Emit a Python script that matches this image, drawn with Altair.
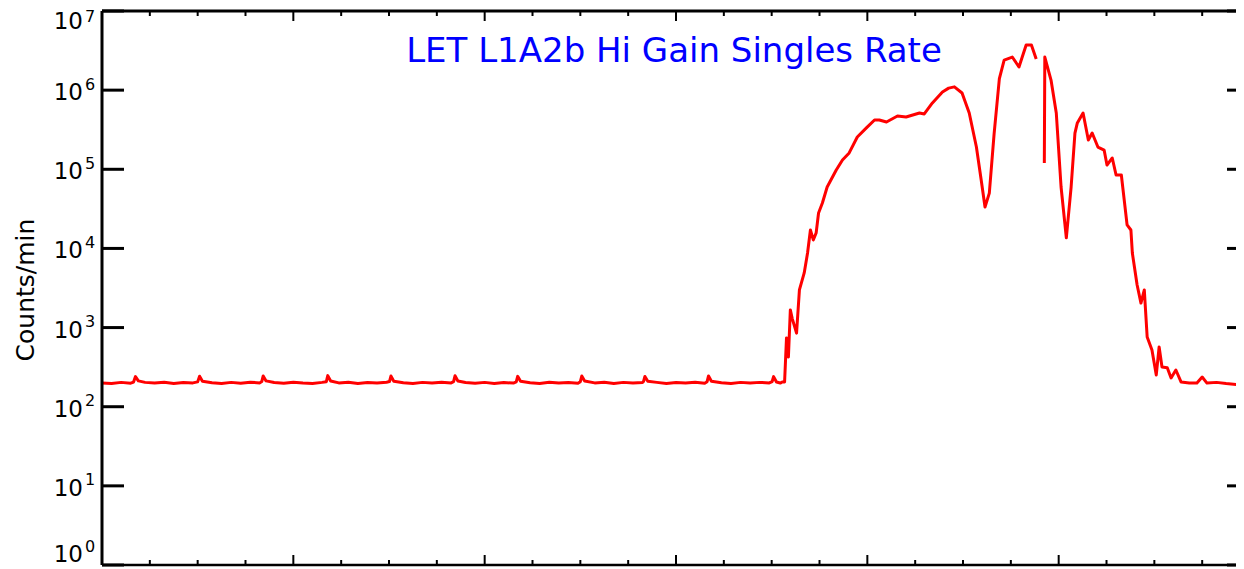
import altair as alt
import pandas as pd

# ---- data (hours, counts/min) ----
seg1_hours = [0.00, 0.20, 0.40, 0.60, 0.66, 0.70, 0.76, 0.90, 1.10, 1.30, 1.50, 1.70, 1.90,
              2.00, 2.04, 2.10, 2.30, 2.50, 2.70, 2.90, 3.10, 3.30, 3.34, 3.37, 3.43, 3.60,
              3.80, 4.00, 4.20, 4.40, 4.60, 4.69, 4.72, 4.78, 4.95, 5.15, 5.35, 5.55, 5.75,
              5.95, 6.01, 6.04, 6.10, 6.30, 6.50, 6.70, 6.90, 7.10, 7.30, 7.35, 7.38, 7.44,
              7.60, 7.80, 8.00, 8.20, 8.40, 8.60, 8.66, 8.69, 8.75, 8.95, 9.15, 9.35, 9.55,
              9.75, 9.95, 10.00, 10.03, 10.09, 10.30, 10.50, 10.70, 10.90, 11.10, 11.30,
              11.32, 11.35, 11.41, 11.60, 11.80, 12.00, 12.20, 12.40, 12.60, 12.65, 12.68,
              12.74, 12.95, 13.15, 13.35, 13.55, 13.75, 13.95, 14.01, 14.04, 14.10, 14.18,
              14.22, 14.27, 14.31, 14.35, 14.39, 14.43, 14.52, 14.58, 14.68, 14.75, 14.81,
              14.87, 14.93, 14.98, 15.06, 15.16, 15.35, 15.48, 15.62, 15.79, 15.98, 16.15,
              16.25, 16.40, 16.63, 16.81, 17.09, 17.19, 17.36, 17.57, 17.70, 17.82, 17.98, 18.13,
              18.28, 18.38, 18.46, 18.55, 18.65, 18.76, 18.86, 19.03, 19.17, 19.32, 19.43,
              19.53]
seg1_rate = [200, 196, 203, 198, 205, 240, 212, 203, 199, 204, 197, 202, 200,
             206, 243, 210, 201, 197, 203, 198, 204, 200, 208, 245, 212, 202,
             198, 204, 199, 197, 203, 207, 247, 211, 200, 204, 197, 202, 199,
             204, 208, 244, 210, 201, 197, 203, 199, 204, 200, 207, 246, 211,
             202, 198, 203, 197, 202, 199, 206, 242, 210, 201, 197, 204, 199,
             202, 198, 207, 244, 211, 200, 204, 197, 203, 199, 202,
             208, 241, 210, 203, 197, 202, 199, 204, 198, 207, 245,
             210, 201, 197, 203, 199, 203, 200, 208, 240, 205, 199,
             205, 205, 740, 425, 1670, 1300, 850, 2990, 4900, 8750, 17100,
             12800, 15700, 28000, 37500, 59700, 98000, 131000, 161000, 256000, 333000, 420000,
             420000, 396000, 471000, 458000, 514000, 500000, 689000, 948000, 1060000, 1100000, 921000, 514000,
             191000, 73300, 33300, 50000, 280000, 1400000, 2400000, 2620000, 1960000, 3710000, 3710000,
             2470000]

seg2_hours = [19.70, 19.71, 19.84, 19.95, 20.05, 20.16, 20.26, 20.34, 20.39, 20.51, 20.62,
              20.70, 20.82, 20.95, 21.01, 21.12, 21.20, 21.31, 21.43, 21.51, 21.54, 21.64,
              21.72, 21.79, 21.85, 21.95, 22.04, 22.10, 22.16, 22.27, 22.35, 22.45, 22.56,
              22.73, 22.89, 23.00, 23.10, 23.30, 23.50, 23.77]
seg2_rate = [120000, 2620000, 1340000, 514000, 59700, 13600, 59700, 287000, 385000, 514000, 234000,
             287000, 191000, 175000, 113000, 139000, 84700, 84700, 19800, 17100, 8750, 3450,
             2040, 2990, 760, 520, 252, 568, 318, 310, 231, 291, 205,
             199, 199, 237, 199, 203, 196, 190]

decades = [1, 10, 100, 1000, 10000, 100000, 1000000, 10000000]
exponents = ["0", "1", "2", "3", "4", "5", "6", "7"]
hour_ticks = list(range(0, 24))
title_text = "LET L1A2b Hi Gain Singles Rate"
y_title = "Counts/min"

# ---- tables ----
line_df = pd.concat([
    pd.DataFrame({"t": seg1_hours, "v": seg1_rate, "seg": "a"}),
    pd.DataFrame({"t": seg2_hours, "v": seg2_rate, "seg": "b"}),
])
dec_df = pd.DataFrame({"v": decades, "e": exponents})
xt_df = pd.DataFrame({"t": hour_ticks, "major": [h % 4 == 0 for h in hour_ticks]})
one = pd.DataFrame({"a": [0]})

W, H = 1134, 554
FONT = "DejaVu Sans"
xscale = alt.Scale(domain=[0, 23.707], nice=False, zero=False)
yscale = alt.Scale(type="log", domain=[1, 1e7], nice=False)
X = alt.X("t:Q", scale=xscale, axis=None)
Y = alt.Y("v:Q", scale=yscale, axis=None)

line = alt.Chart(line_df).mark_line(color="#ff0000", strokeWidth=3, strokeJoin="round").encode(
    x=X, y=Y, detail="seg:N")

ytick_l = alt.Chart(dec_df).mark_rule(color="black", strokeWidth=3).encode(
    y=Y, x=alt.value(0), x2=alt.value(22))
ytick_r = alt.Chart(dec_df).mark_rule(color="black", strokeWidth=3).encode(
    y=Y, x=alt.value(W - 9), x2=alt.value(W))

major = xt_df[xt_df["major"]]
minor = xt_df[~xt_df["major"]]
xt_top_maj = alt.Chart(major).mark_rule(color="black", strokeWidth=2).encode(
    x=X, y=alt.value(0), y2=alt.value(10))
xt_top_min = alt.Chart(minor).mark_rule(color="black", strokeWidth=2).encode(
    x=X, y=alt.value(0), y2=alt.value(5))
xt_bot_maj = alt.Chart(major).mark_rule(color="black", strokeWidth=2).encode(
    x=X, y=alt.value(H), y2=alt.value(H - 10))
xt_bot_min = alt.Chart(minor).mark_rule(color="black", strokeWidth=2).encode(
    x=X, y=alt.value(H), y2=alt.value(H - 5))

left_line = alt.Chart(one).mark_rule(color="black", strokeWidth=3).encode(
    x=alt.value(0), y=alt.value(0), y2=alt.value(H))
top_line = alt.Chart(one).mark_rule(color="black", strokeWidth=3).encode(
    x=alt.value(0), x2=alt.value(W), y=alt.value(0))
bot_line = alt.Chart(one).mark_rule(color="black", strokeWidth=2.5).encode(
    x=alt.value(0), x2=alt.value(W), y=alt.value(H))


def labels(filt, dy, sup_dy):
    base = alt.Chart(dec_df).transform_filter(filt)
    ten = base.mark_text(text="10", align="right", baseline="alphabetic", dy=dy,
                         font=FONT, fontSize=23, color="black").encode(y=Y, x=alt.value(-19))
    sup = base.mark_text(align="left", baseline="alphabetic", dy=dy + sup_dy,
                         font=FONT, fontSize=16, color="black").encode(
        y=Y, x=alt.value(-17), text="e:N")
    return ten + sup


lab_mid = labels("datum.v > 1 && datum.v < 10000000", 10, -10.5)
lab_top = labels("datum.v >= 10000000", 17.5, -6.5)
lab_bot = labels("datum.v <= 1", -3, -10.5)

title = alt.Chart(one).mark_text(text=title_text, align="center", baseline="alphabetic",
                                 font=FONT, fontSize=34, color="#0000ff").encode(
    x=alt.value(572), y=alt.value(51))
ytitle = alt.Chart(one).mark_text(text=y_title, align="center", baseline="alphabetic",
                                  angle=270, font=FONT, fontSize=25, color="black").encode(
    x=alt.value(-68), y=alt.value(279))

chart = alt.layer(
    line, ytick_l, ytick_r, xt_top_maj, xt_top_min, xt_bot_maj, xt_bot_min,
    left_line, top_line, bot_line, lab_mid, lab_top, lab_bot, title, ytitle
).properties(
    width=W, height=H,
    padding={"left": 94, "top": 3, "right": 0, "bottom": 4},
    autosize=alt.AutoSizeParams(type="none"),
    background="white",
).configure_view(strokeWidth=0)

chart.save("out.html", embed_options={"renderer": "svg", "actions": False})
